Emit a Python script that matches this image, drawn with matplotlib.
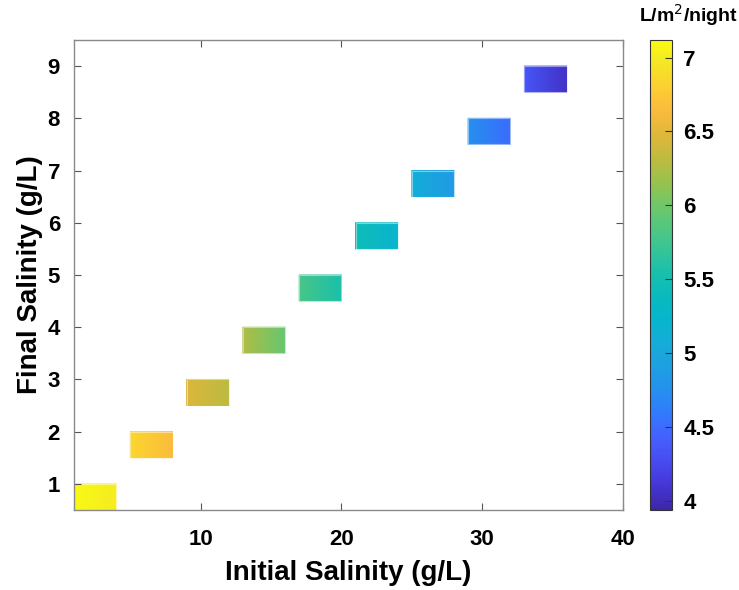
import matplotlib; matplotlib.use("Agg")
import matplotlib.pyplot as plt, numpy as np
from matplotlib.colors import LinearSegmentedColormap, Normalize

# flux map: each cell spans an initial-salinity band and a final-salinity band
init_lo = [1, 5, 9, 13, 17, 21, 25, 29, 33]
init_hi = [4, 8, 12, 16, 20, 24, 28, 32, 36]
final_lo = [0.5, 1.5, 2.5, 3.5, 4.5, 5.5, 6.5, 7.5, 8.5]
final_hi = [1, 2, 3, 4, 5, 6, 7, 8, 9]
flux_left = [7.10, 6.85, 6.45, 6.25, 5.80, 5.45, 5.10, 4.75, 4.35]
flux_right = [7.00, 6.65, 6.30, 5.95, 5.55, 5.20, 4.85, 4.50, 4.05]
cbar_ticks = [4, 4.5, 5, 5.5, 6, 6.5, 7]
cbar_labels = ["4", "4.5", "5", "5.5", "6", "6.5", "7"]

# parula-like colormap (MATLAB default)
parula = LinearSegmentedColormap.from_list("parula", [
    (0.00, (0.2422, 0.1504, 0.6603)), (0.05, (0.2700, 0.2100, 0.8300)),
    (0.10, (0.2800, 0.2900, 0.9400)), (0.15, (0.2700, 0.3700, 0.9900)),
    (0.20, (0.2000, 0.4700, 0.9950)), (0.25, (0.1500, 0.5600, 0.9400)),
    (0.30, (0.1200, 0.6200, 0.8900)), (0.35, (0.0900, 0.6700, 0.8500)),
    (0.40, (0.0300, 0.7100, 0.8100)), (0.45, (0.0300, 0.7300, 0.7500)),
    (0.50, (0.0900, 0.7500, 0.6800)), (0.55, (0.2000, 0.7700, 0.6000)),
    (0.60, (0.3200, 0.7800, 0.5000)), (0.65, (0.4400, 0.7800, 0.4000)),
    (0.70, (0.6000, 0.7600, 0.3000)), (0.75, (0.7500, 0.7300, 0.2500)),
    (0.80, (0.8800, 0.7200, 0.2300)), (0.85, (0.9800, 0.7300, 0.2400)),
    (0.90, (0.9900, 0.8100, 0.2000)), (0.95, (0.9600, 0.9000, 0.1500)),
    (1.00, (0.9769, 0.9839, 0.0805))])
norm = Normalize(3.937, 7.119)

plt.rcParams["font.family"] = ["Liberation Sans", "DejaVu Sans"]
fig = plt.figure(figsize=(7.39, 5.90), dpi=100)
ax = fig.add_axes([0.1001, 0.1356, 0.7429, 0.7966])
for x0, x1, y0, y1, vl, vr in zip(init_lo, init_hi, final_lo, final_hi, flux_left, flux_right):
    X, Y = np.meshgrid([x0, x1], [y0, y1])
    C = np.array([[vl, vr], [vl, vr]])
    ax.pcolormesh(X, Y, C, cmap=parula, norm=norm, shading="gouraud")
    ax.add_patch(plt.Rectangle((x0, y0), x1 - x0, y1 - y0, fill=False,
                               ec="white", lw=0.8, alpha=0.45))

ax.set_xlim(1, 40); ax.set_ylim(0.5, 9.5)
ax.set_xticks([10, 20, 30, 40]); ax.set_yticks(range(1, 10))
ax.tick_params(direction="in", top=True, right=True, length=5, width=0.8,
               color="#555555", labelsize=16)
ax.tick_params(axis="x", pad=14)
ax.tick_params(axis="y", pad=10)
for lab in ax.get_xticklabels() + ax.get_yticklabels():
    lab.set_fontweight("bold")
for s in ax.spines.values():
    s.set_color("#8a8a8a"); s.set_linewidth(1.0)
ax.set_xlabel("Initial Salinity (g/L)", fontsize=20, fontweight="bold", labelpad=7)
ax.set_ylabel("Final Salinity (g/L)", fontsize=20, fontweight="bold", labelpad=3)

cax = fig.add_axes([0.8796, 0.1356, 0.0298, 0.7966])
sm = plt.cm.ScalarMappable(norm=norm, cmap=parula)
cb = fig.colorbar(sm, cax=cax, ticks=cbar_ticks)
cb.ax.set_yticklabels(cbar_labels)
cb.ax.tick_params(direction="in", length=5, labelsize=16, color="#333333", pad=8)
for lab in cb.ax.get_yticklabels():
    lab.set_fontweight("bold")
cb.outline.set_edgecolor("#333333"); cb.outline.set_linewidth(0.8)
fig.text(0.932, 0.975, "L/m$^2$/night", ha="center", va="center", fontsize=14, fontweight="bold")

plt.savefig("out.png", dpi=100)
plt.close()
